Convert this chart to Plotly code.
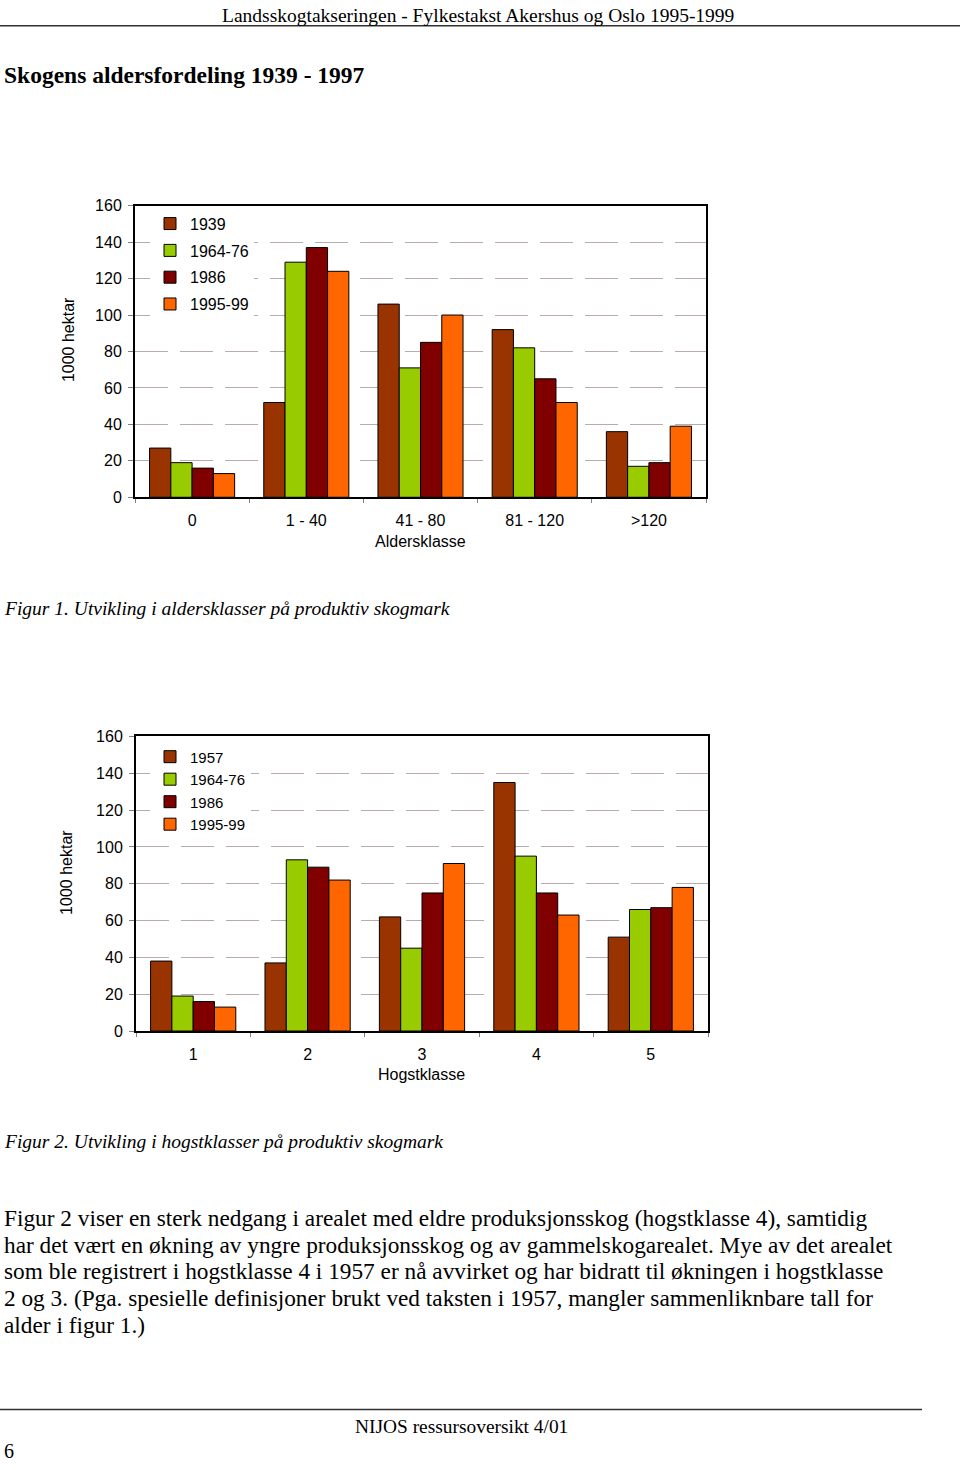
import plotly.graph_objects as go

# ---------------- data ----------------
age_classes = ["0", "1 - 40", "41 - 80", "81 - 120", ">120"]
age_series_names = ["1939", "1964-76", "1986", "1995-99"]
age_1939 = [27, 52, 106, 92, 36]
age_1964_76 = [19, 129, 71, 82, 17]
age_1986 = [16, 137, 85, 65, 19]
age_1995_99 = [13, 124, 100, 52, 39]

hogst_classes = ["1", "2", "3", "4", "5"]
hogst_series_names = ["1957", "1964-76", "1986", "1995-99"]
hogst_1957 = [38, 37, 62, 135, 51]
hogst_1964_76 = [19, 93, 45, 95, 66]
hogst_1986 = [16, 89, 75, 75, 67]
hogst_1995_99 = [13, 82, 91, 63, 78]

y_ticks = [0, 20, 40, 60, 80, 100, 120, 140, 160]
colors = ["#993300", "#99CC00", "#800000", "#FF6600"]

paragraph_lines = [
    "Figur 2 viser en sterk nedgang i arealet med eldre produksjonsskog (hogstklasse 4), samtidig",
    "har det vært en økning av yngre produksjonsskog og av gammelskogarealet. Mye av det arealet",
    "som ble registrert i hogstklasse 4 i 1957 er nå avvirket og har bidratt til økningen i hogstklasse",
    "2 og 3. (Pga. spesielle definisjoner brukt ved taksten i 1957, mangler sammenliknbare tall for",
    "alder i figur 1.)",
]

W, H = 960, 1470
SANS = "Liberation Sans, Arial, sans-serif"
SERIF = "Liberation Serif, Times New Roman, serif"


def px_x(x):
    return x / W


def px_y(y):
    return 1 - y / H


fig = go.Figure()

age_data = [age_1939, age_1964_76, age_1986, age_1995_99]
for i, (name, vals) in enumerate(zip(age_series_names, age_data)):
    fig.add_trace(go.Bar(
        x=age_classes, y=vals, name=name, xaxis="x", yaxis="y",
        marker=dict(color=colors[i], line=dict(color="black", width=1)),
        legend="legend", legendgroup="a" + str(i),
    ))

hogst_data = [hogst_1957, hogst_1964_76, hogst_1986, hogst_1995_99]
for i, (name, vals) in enumerate(zip(hogst_series_names, hogst_data)):
    fig.add_trace(go.Bar(
        x=hogst_classes, y=vals, name=name, xaxis="x2", yaxis="y2",
        marker=dict(color=colors[i], line=dict(color="black", width=1)),
        legend="legend2", legendgroup="h" + str(i),
    ))

xaxis_common = dict(
    type="category", showline=True, linecolor="black", linewidth=2, mirror=True,
    ticks="outside", tickson="boundaries", ticklen=4, tickcolor="#808080",
    tickfont=dict(family=SANS, size=16, color="black"), showgrid=False,
    ticklabelstandoff=8, fixedrange=True,
)
yaxis_common = dict(
    range=[0, 160], tickvals=y_ticks, showline=True, linecolor="black", linewidth=2,
    mirror=True, ticks="outside", ticklen=5, tickcolor="#808080",
    tickfont=dict(family=SANS, size=16, color="black"), showgrid=True,
    gridcolor="#b8abad", gridwidth=1, griddash="33px,12px", zeroline=False,
    ticklabelstandoff=3, fixedrange=True,
)

fig.update_layout(
    width=W, height=H, margin=dict(l=0, r=0, t=0, b=0),
    paper_bgcolor="white", plot_bgcolor="white",
    barmode="group", bargap=0.255, bargroupgap=0.0,
    xaxis=dict(domain=[px_x(135), px_x(706)], anchor="y", **xaxis_common),
    yaxis=dict(domain=[px_y(495), px_y(200)], anchor="x", **yaxis_common),
    xaxis2=dict(domain=[px_x(136), px_x(708)], anchor="y2", **xaxis_common),
    yaxis2=dict(domain=[px_y(1035), px_y(737)], anchor="x2", **yaxis_common),
    legend=dict(
        x=px_x(150), y=px_y(201), xanchor="left", yanchor="top",
        bgcolor="white", borderwidth=0, font=dict(family=SANS, size=16, color="black"),
        tracegroupgap=3, traceorder="grouped",
    ),
    legend2=dict(
        x=px_x(150), y=px_y(741), xanchor="left", yanchor="top",
        bgcolor="white", borderwidth=0, font=dict(family=SANS, size=15, color="black"),
        tracegroupgap=0, traceorder="grouped",
    ),
    showlegend=True,
)

shapes = [
    dict(type="line", xref="paper", yref="paper", x0=0, x1=1, y0=px_y(18), y1=px_y(18),
         line=dict(color="#303030", width=1.5)),
    dict(type="line", xref="paper", yref="paper", x0=0, x1=px_x(922), y0=px_y(1418), y1=px_y(1418),
         line=dict(color="#303030", width=1.5)),
]
fig.update_layout(shapes=shapes)


def ann(text, x, y, size, family=SERIF, xanchor="left", angle=0, color="black"):
    return dict(text=text, x=px_x(x), y=px_y(y), xref="paper", yref="paper",
                xanchor=xanchor, yanchor="middle", showarrow=False, textangle=angle,
                font=dict(family=family, size=size, color=color))


annotations = [
    ann("Landsskogtakseringen - Fylkestakst Akershus og Oslo 1995-1999", 478, 8, 19.5, xanchor="center"),
    ann("<b>Skogens aldersfordeling 1939 - 1997</b>", 2, 68, 23.5),
    ann("1000 hektar", 68, 336, 16, family=SANS, xanchor="center", angle=-90),
    ann("Aldersklasse", 420, 540, 16, family=SANS, xanchor="center"),
    ann("<i>Figur 1. Utvikling i aldersklasser på produktiv skogmark</i>", 2, 608, 19.5),
    ann("1000 hektar", 67, 875, 16, family=SANS, xanchor="center", angle=-90),
    ann("Hogstklasse", 421, 1079, 16, family=SANS, xanchor="center"),
    ann("<i>Figur 2. Utvikling i hogstklasser på produktiv skogmark</i>", 2, 1147, 19.5),
    ann("NIJOS ressursoversikt 4/01", 461, 1435, 19.4, xanchor="center"),
    ann("6", 2, 1460, 20),
]
for i, line in enumerate(paragraph_lines):
    annotations.append(ann(line, 2, 1224 + 27 * i, 23.3))
fig.update_layout(annotations=annotations)

post = (
    "document.documentElement.style.margin='0';"
    "document.body.style.margin='0';document.body.style.padding='0';"
    "document.documentElement.style.overflow='hidden';"
    "document.body.style.overflow='hidden';"
    "var gd=document.getElementById('{plot_id}');"
    "gd.style.position='fixed';gd.style.left='0px';gd.style.top='0px';"
)
fig.write_html("out.html", post_script=post, config={"displayModeBar": False})
